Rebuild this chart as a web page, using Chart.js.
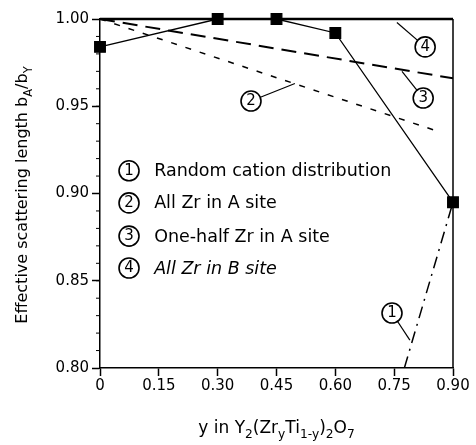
<!DOCTYPE html>
<html>
<head>
<meta charset="utf-8">
<script src="https://cdn.jsdelivr.net/npm/chart.js@4/dist/chart.umd.min.js"></script>
<style>
  body { margin: 0; background: #fff; }
  #chart { display: block; }
</style>
</head>
<body>
<canvas id="chart" width="476" height="445"></canvas>
<script>
// measured values (solid line with squares)
const measuredX = [0, 0.30, 0.45, 0.60, 0.90];
const measuredY = [0.984, 1.000, 1.000, 0.992, 0.895];

// model curves
const randomX = [0.776, 0.90];   // 1 random cation distribution
const randomY = [0.80, 0.895];
const allAX = [0, 0.87];          // 2 all Zr in A site
const allAY = [1.0, 0.935];
const halfAX = [0, 0.90];         // 3 one-half Zr in A site
const halfAY = [1.0, 0.966];
const allBX = [0, 0.90];          // 4 all Zr in B site
const allBY = [1.0, 1.0];

const legendLabels = ['Random cation distribution', 'All Zr in A site', 'One-half Zr in A site', 'All Zr in B site'];

// tick labels
const xTickValues = [0, 0.15, 0.30, 0.45, 0.60, 0.75, 0.90];
const yTickValues = [0.80, 0.85, 0.90, 0.95, 1.00];

function pts(xs, ys) {
  return xs.map((x, i) => ({ x: x, y: ys[i] }));
}

const FONT = '"DejaVu Sans", sans-serif';

// draw a string made of normal / subscript pieces, centred on (x, y)
function drawRich(ctx, parts, x, y, size) {
  const widths = parts.map(p => {
    ctx.font = (p.sub ? size * 0.72 : size) + 'px ' + FONT;
    return ctx.measureText(p.t).width;
  });
  const total = widths.reduce((a, b) => a + b, 0);
  let cx = x - total / 2;
  ctx.textAlign = 'left';
  ctx.textBaseline = 'alphabetic';
  parts.forEach((p, i) => {
    ctx.font = (p.sub ? size * 0.72 : size) + 'px ' + FONT;
    ctx.fillText(p.t, cx, p.sub ? y + size * 0.3 : y);
    cx += widths[i];
  });
}

function circled(ctx, n, x, y) {
  ctx.beginPath();
  ctx.arc(x, y, 10, 0, Math.PI * 2);
  ctx.lineWidth = 1.6;
  ctx.strokeStyle = '#000';
  ctx.fillStyle = '#fff';
  ctx.fill();
  ctx.stroke();
  ctx.fillStyle = '#000';
  ctx.font = '15px ' + FONT;
  ctx.textAlign = 'center';
  ctx.textBaseline = 'middle';
  ctx.fillText(String(n), x, y + 0.5);
}

// callouts: circle position and leader end, in data units
const callouts = [
  { n: 1, cx: 0.7445, cy: 0.8315, lx: 0.79, ly: 0.816 },
  { n: 2, cx: 0.385, cy: 0.953, lx: 0.497, ly: 0.963 },
  { n: 3, cx: 0.824, cy: 0.9547, lx: 0.770, ly: 0.970 },
  { n: 4, cx: 0.829, cy: 0.984, lx: 0.757, ly: 0.998 }
];
const legendX = [0.074, 0.138];
const legendY = [0.913, 0.8946, 0.8756, 0.8573];

const decorPlugin = {
  id: 'decor',
  afterDatasetsDraw(chart) {
    const ctx = chart.ctx;
    const xs = chart.scales.x, ys = chart.scales.y;
    const area = chart.chartArea;
    ctx.save();
    // right frame line
    ctx.strokeStyle = '#000';
    ctx.lineWidth = 1.5;
    ctx.beginPath();
    ctx.moveTo(area.right, area.top);
    ctx.lineTo(area.right, area.bottom);
    ctx.stroke();

    // minor ticks on y axis
    ctx.lineWidth = 1;
    for (let v = 0.81; v < 1.0; v += 0.01) {
      const py = ys.getPixelForValue(v);
      ctx.beginPath();
      ctx.moveTo(area.left - 4, py);
      ctx.lineTo(area.left, py);
      ctx.stroke();
    }

    // leaders and circled numbers
    callouts.forEach(c => {
      const px = xs.getPixelForValue(c.cx), py = ys.getPixelForValue(c.cy);
      const lx = xs.getPixelForValue(c.lx), ly = ys.getPixelForValue(c.ly);
      ctx.lineWidth = 1.2;
      ctx.beginPath();
      ctx.moveTo(px, py);
      ctx.lineTo(lx, ly);
      ctx.stroke();
      circled(ctx, c.n, px, py);
    });

    // legend block
    legendLabels.forEach((label, i) => {
      const py = ys.getPixelForValue(legendY[i]);
      circled(ctx, i + 1, xs.getPixelForValue(legendX[0]), py);
      ctx.fillStyle = '#000';
      ctx.font = (i === 3 ? 'italic ' : '') + '17.5px ' + FONT;
      ctx.textAlign = 'left';
      ctx.textBaseline = 'middle';
      ctx.fillText(label, xs.getPixelForValue(legendX[1]), py + 1);
    });

    // axis titles
    ctx.fillStyle = '#000';
    drawRich(ctx, [
      { t: 'y in Y' }, { t: '2', sub: true }, { t: '(Zr' }, { t: 'y', sub: true },
      { t: 'Ti' }, { t: '1-y', sub: true }, { t: ')' }, { t: '2', sub: true },
      { t: 'O' }, { t: '7', sub: true }
    ], (area.left + area.right) / 2, 433, 17);

    ctx.translate(27, 195);
    ctx.rotate(-Math.PI / 2);
    drawRich(ctx, [
      { t: 'Effective scattering length b' }, { t: 'A', sub: true },
      { t: '/b' }, { t: 'Y', sub: true }
    ], 0, 0, 16);
    ctx.restore();
  }
};

new Chart(document.getElementById('chart'), {
  type: 'scatter',
  data: {
    datasets: [
      {
        label: 'Measured',
        data: pts(measuredX, measuredY),
        showLine: true,
        borderColor: '#000',
        borderWidth: 1.3,
        pointStyle: 'rect',
        pointRadius: 7.5,
        pointBackgroundColor: '#000',
        pointBorderColor: '#000',
        clip: false
      },
      {
        label: legendLabels[0],
        data: pts(randomX, randomY),
        showLine: true,
        borderColor: '#000',
        borderWidth: 1.5,
        borderDash: [12, 6, 2, 6],
        pointRadius: 0
      },
      {
        label: legendLabels[1],
        data: pts(allAX, allAY),
        showLine: true,
        borderColor: '#000',
        borderWidth: 1.5,
        borderDash: [6, 9],
        pointRadius: 0
      },
      {
        label: legendLabels[2],
        data: pts(halfAX, halfAY),
        showLine: true,
        borderColor: '#000',
        borderWidth: 2,
        borderDash: [15, 8],
        pointRadius: 0
      },
      {
        label: legendLabels[3],
        data: pts(allBX, allBY),
        showLine: true,
        borderColor: '#000',
        borderWidth: 2.5,
        pointRadius: 0,
        clip: false
      }
    ]
  },
  options: {
    responsive: false,
    animation: false,
    layout: { padding: { top: 19, right: 23, left: 0, bottom: 0 } },
    plugins: {
      legend: { display: false },
      tooltip: { enabled: false }
    },
    scales: {
      x: {
        type: 'linear',
        min: 0,
        max: 0.9,
        afterFit: s => { s.height = 77; },
        afterBuildTicks: s => { s.ticks = xTickValues.map(v => ({ value: v })); },
        grid: { drawOnChartArea: false, drawTicks: true, tickLength: 8, tickColor: '#000', tickWidth: 1.5 },
        border: { display: true, color: '#000', width: 1.5 },
        ticks: {
          color: '#000',
          padding: 1,
          font: { family: FONT, size: 15 },
          callback: v => v === 0 ? '0' : v.toFixed(2)
        }
      },
      y: {
        type: 'linear',
        min: 0.8,
        max: 1.0,
        afterFit: s => { s.width = 100; },
        afterBuildTicks: s => { s.ticks = yTickValues.map(v => ({ value: v })); },
        grid: { drawOnChartArea: false, drawTicks: true, tickLength: 8, tickColor: '#000', tickWidth: 1.5 },
        border: { display: true, color: '#000', width: 1.5 },
        ticks: {
          color: '#000',
          padding: 3,
          font: { family: FONT, size: 15 },
          callback: v => v.toFixed(2)
        }
      }
    }
  },
  plugins: [decorPlugin]
});
</script>
</body>
</html>
